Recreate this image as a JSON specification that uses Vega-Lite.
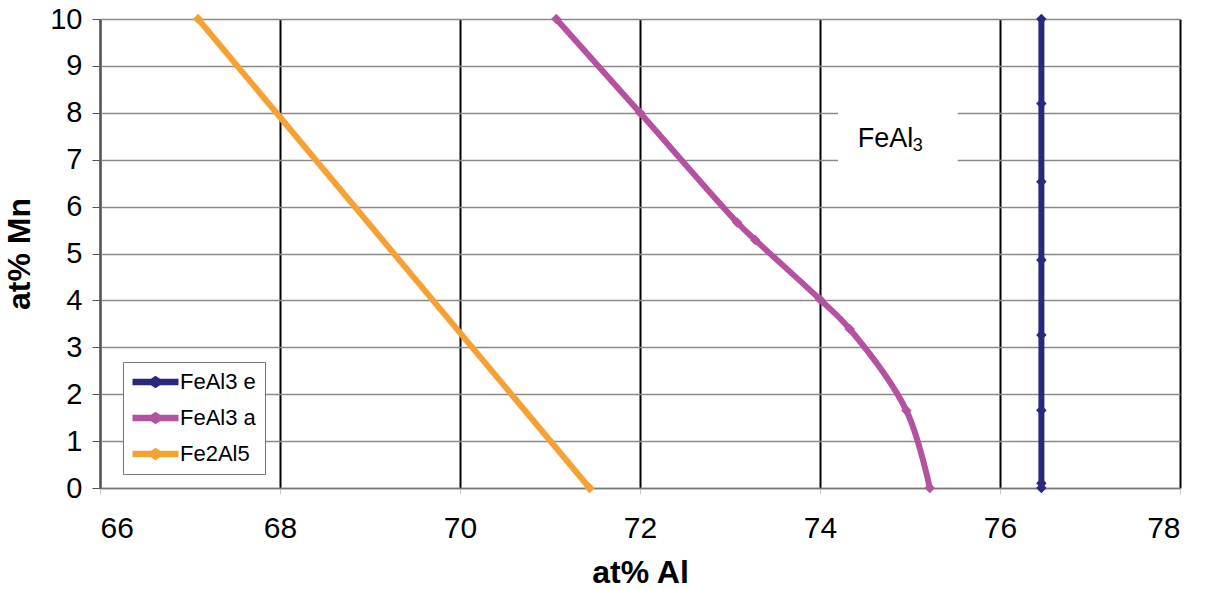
{
  "$schema": "https://vega.github.io/schema/vega-lite/v6.json",
  "width": 1080,
  "height": 469,
  "autosize": {"type": "none"},
  "padding": {"left": 100, "top": 19, "right": 25, "bottom": 102},
  "background": "white",
  "config": {
    "view": {"stroke": null},
    "font": "Liberation Sans"
  },
  "datasets": {
    "curves": [
      {"s": "FeAl3 e", "x": 76.46, "y": 10},
      {"s": "FeAl3 e", "x": 76.46, "y": 8.2},
      {"s": "FeAl3 e", "x": 76.46, "y": 6.53},
      {"s": "FeAl3 e", "x": 76.46, "y": 4.86},
      {"s": "FeAl3 e", "x": 76.46, "y": 3.26},
      {"s": "FeAl3 e", "x": 76.46, "y": 1.66},
      {"s": "FeAl3 e", "x": 76.46, "y": 0.1},
      {"s": "FeAl3 e", "x": 76.46, "y": 0},
      {"s": "FeAl3 a", "x": 71.07, "y": 10},
      {"s": "FeAl3 a", "x": 72.0, "y": 8.0},
      {"s": "FeAl3 a", "x": 73.08, "y": 5.66},
      {"s": "FeAl3 a", "x": 73.28, "y": 5.29},
      {"s": "FeAl3 a", "x": 74.0, "y": 4.02},
      {"s": "FeAl3 a", "x": 74.33, "y": 3.39},
      {"s": "FeAl3 a", "x": 74.96, "y": 1.65},
      {"s": "FeAl3 a", "x": 75.22, "y": 0},
      {"s": "Fe2Al5", "x": 67.09, "y": 10},
      {"s": "Fe2Al5", "x": 71.44, "y": 0}
    ],
    "note": [
      {"label": "FeAl", "sub": "3", "x0": 74.2, "x1": 75.53, "y0": 6.95, "y1": 8.05, "tx": 74.42, "ty": 7.28, "sx": 75.03, "sy": 7.19}
    ]
  },
  "layer": [
    {
      "data": {"name": "note"},
      "mark": {"type": "rect", "fill": "white", "stroke": null},
      "encoding": {
        "x": {"field": "x0", "type": "quantitative"},
        "x2": {"field": "x1"},
        "y": {"field": "y0", "type": "quantitative"},
        "y2": {"field": "y1"}
      }
    },
    {
      "data": {"name": "note"},
      "mark": {"type": "text", "align": "left", "baseline": "alphabetic", "fontSize": 27, "font": "Liberation Sans", "color": "black"},
      "encoding": {
        "x": {"field": "tx", "type": "quantitative"},
        "y": {"field": "ty", "type": "quantitative"},
        "text": {"field": "label"}
      }
    },
    {
      "data": {"name": "note"},
      "mark": {"type": "text", "align": "left", "baseline": "alphabetic", "fontSize": 18, "font": "Liberation Sans", "color": "black"},
      "encoding": {
        "x": {"field": "sx", "type": "quantitative"},
        "y": {"field": "sy", "type": "quantitative"},
        "text": {"field": "sub"}
      }
    },
    {
      "data": {"name": "curves"},
      "encoding": {
        "x": {
          "field": "x", "type": "quantitative",
          "scale": {"domain": [66, 78], "nice": false, "zero": false},
          "axis": {
            "title": "at% Al",
            "values": [66, 68, 70, 72, 74, 76, 78],
            "format": "d",
            "grid": true, "gridColor": "#000000", "gridWidth": 2, "gridOpacity": 1,
            "domainColor": "#777777", "domainWidth": 1.5,
            "tickColor": "#cccccc", "tickSize": 6,
            "labelFontSize": 30, "labelColor": "#000000", "labelPadding": 19, "labelFont": "Liberation Sans",
            "titleFontSize": 32, "titleFontWeight": "bold", "titleColor": "#000000", "titlePadding": 14, "titleFont": "Liberation Sans"
          }
        },
        "y": {
          "field": "y", "type": "quantitative",
          "scale": {"domain": [0, 10], "nice": false},
          "axis": {
            "title": "at% Mn",
            "values": [0, 1, 2, 3, 4, 5, 6, 7, 8, 9, 10],
            "grid": true, "gridColor": "#8a8a8a", "gridWidth": 1.5, "gridOpacity": 1,
            "domainColor": "#555555", "domainWidth": 1.5,
            "tickColor": "#555555", "tickSize": 8,
            "labelFontSize": 29, "labelColor": "#000000", "labelPadding": 10, "labelFont": "Liberation Sans",
            "titleFontSize": 32, "titleFontWeight": "bold", "titleColor": "#000000", "titlePadding": 13, "titleFont": "Liberation Sans"
          }
        },
        "order": {"field": "y", "type": "quantitative"},
        "color": {
          "field": "s", "type": "nominal",
          "scale": {"domain": ["FeAl3 e", "FeAl3 a", "Fe2Al5"], "range": ["#29287e", "#b4529f", "#f4a233"]},
          "legend": {
            "title": null,
            "orient": "none",
            "legendX": 23,
            "legendY": 343,
            "padding": 9,
            "fillColor": "white",
            "strokeColor": "#777777",
            "symbolType": "M-1,-0.3 L0.76,-0.3 L1.19,-0.6 L1.62,-0.3 L3.38,-0.3 L3.38,0.3 L1.62,0.3 L1.19,0.6 L0.76,0.3 L-1,0.3 Z",
            "symbolSize": 441,
            "symbolStrokeWidth": 0,
            "labelOffset": 26,
            "labelFontSize": 22,
            "labelFont": "Liberation Sans",
            "labelColor": "#000000",
            "rowPadding": 14,
            "encode": {
              "symbols": {"update": {"fill": {"scale": "color", "field": "value"}, "fillOpacity": {"value": 1}, "strokeWidth": {"value": 0}}}
            }
          }
        }
      },
      "layer": [
        {"mark": {"type": "line", "strokeWidth": 6, "interpolate": "catmull-rom"}},
        {"mark": {"type": "point", "shape": "diamond", "filled": true, "size": 110, "opacity": 1}}
      ]
    }
  ]
}
